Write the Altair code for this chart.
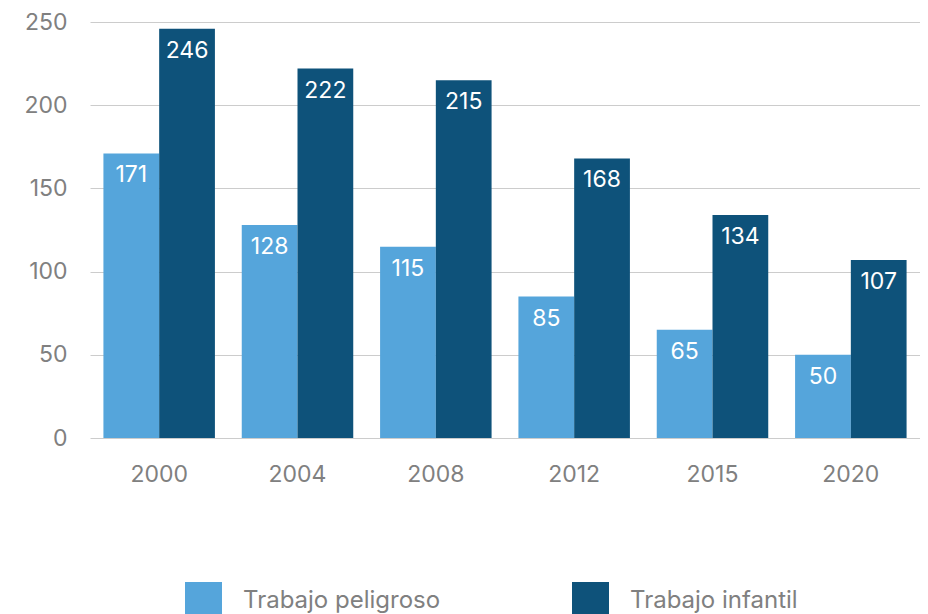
import altair as alt
import pandas as pd

years = ["2000", "2004", "2008", "2012", "2015", "2020"]
series = ["Trabajo peligroso", "Trabajo infantil"]
peligroso = [171, 128, 115, 85, 65, 50]
infantil = [246, 222, 215, 168, 134, 107]
colors = ["#55A5DB", "#0E527A"]

rows = []
for y, a, b in zip(years, peligroso, infantil):
    rows.append({"year": y, "serie": series[0], "value": a})
    rows.append({"year": y, "serie": series[1], "value": b})
df = pd.DataFrame(rows)

FONT = "Inter"
GRAY = "#808080"
FS = 23

x = alt.X("year:N", sort=years, title=None,
          scale=alt.Scale(paddingInner=0.194, paddingOuter=0.097),
          axis=alt.Axis(labelAngle=0, ticks=False, domain=False, labelPadding=25,
                        labelFontSize=FS, labelColor=GRAY, labelFont=FONT, grid=False))
xo = alt.XOffset("serie:N", sort=series, scale=alt.Scale(domain=series, paddingInner=0, paddingOuter=0))
y = alt.Y("value:Q", title=None,
          scale=alt.Scale(domain=[0, 250], nice=False),
          axis=alt.Axis(values=[0, 50, 100, 150, 200, 250], ticks=False, domain=False,
                        labelPadding=23, labelFontSize=FS, labelColor=GRAY, labelFont=FONT,
                        grid=True, gridColor="#CCCCCC", gridWidth=1))

color = alt.Color("serie:N", sort=series,
                  scale=alt.Scale(domain=series, range=colors),
                  legend=alt.Legend(title=None, orient="none", legendX=95, legendY=560,
                                    direction="horizontal", symbolType="square",
                                    symbolSize=1369, symbolStrokeWidth=0, symbolOpacity=1,
                                    labelFontSize=24, labelColor=GRAY, labelFont=FONT,
                                    labelLimit=0, labelOffset=21, columnPadding=131, padding=0))

bars = alt.Chart(df).mark_bar().encode(x=x, xOffset=xo, y=y, color=color)
labels = alt.Chart(df).mark_text(baseline="middle", dy=22, color="white",
                                 fontSize=FS, font=FONT).encode(
    x=x, xOffset=xo, y=y, text=alt.Text("value:Q"))

chart = (bars + labels).properties(
    width=830, height=416,
    autosize=alt.AutoSizeParams(type="none"),
    padding={"left": 82, "top": 14, "right": 0, "bottom": 176},
).configure_view(stroke=None)

chart.save("out.html", embed_options={"renderer": "svg", "actions": False})
